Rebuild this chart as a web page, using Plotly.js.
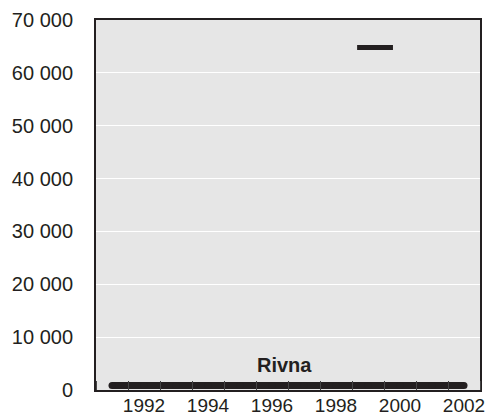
<!DOCTYPE html>
<html>
<head>
<meta charset="utf-8">
<script src="https://cdn.plot.ly/plotly-3.0.1.min.js"></script>
<style>html,body{margin:0;padding:0;background:#fff;}#chart{width:490px;height:417px;}</style>
</head>
<body>
<div id="chart"></div>
<script>
// Data
var years = [1991, 1992, 1993, 1994, 1995, 1996, 1997, 1998, 1999, 2000, 2001, 2002];
var rivnaValues = [850, 850, 850, 850, 850, 850, 850, 850, 850, 850, 850, 850];
var peakYears = [1998.66, 1999.78];
var peakValues = [64800, 64800];
var xTickVals = [1992, 1994, 1996, 1998, 2000, 2002];
var xTickText = ['1992', '1994', '1996', '1998', '2000', '2002'];
var yTickVals = [0, 10000, 20000, 30000, 40000, 50000, 60000, 70000];
var yTickText = ['0', '10 000', '20 000', '30 000', '40 000', '50 000', '60 000', '70 000'];
var seriesLabel = 'Rivna';

var dark = '#231f20';
var traces = [
  {x: years, y: rivnaValues, type: 'scatter', mode: 'lines+markers',
   line: {color: dark, width: 7}, marker: {color: dark, size: 7}, hoverinfo: 'skip', cliponaxis: false},
  {x: peakYears, y: peakValues, type: 'scatter', mode: 'lines',
   line: {color: dark, width: 5}, hoverinfo: 'skip'}
];

var fam = '"Liberation Sans", Arial, Helvetica, sans-serif';
var font = {family: fam, size: 20, color: dark};
var layout = {
  width: 490, height: 417,
  margin: {l: 96, r: 10, t: 20, b: 27, pad: 0},
  paper_bgcolor: '#ffffff',
  plot_bgcolor: '#e6e6e6',
  showlegend: false,
  font: font,
  xaxis: {
    range: [1990.5, 2002.5],
    tickmode: 'array', tickvals: xTickVals, ticktext: xTickText,
    ticks: '', showgrid: false, zeroline: false,
    showline: true, mirror: true, linecolor: dark, linewidth: 2,
    ticklabelstandoff: -3,
    tickfont: {family: fam, size: 19, color: dark},
    minor: {tick0: 1991.5, dtick: 1, ticks: 'inside', ticklen: 9, tickwidth: 1, tickcolor: '#444', showgrid: false}
  },
  yaxis: {
    range: [0, 70000],
    tickmode: 'array', tickvals: yTickVals, ticktext: yTickText,
    ticks: '', showgrid: true, gridcolor: '#ffffff', gridwidth: 1, zeroline: false,
    showline: true, mirror: true, linecolor: dark, linewidth: 2,
    ticklabelstandoff: 17,
    tickfont: font
  },
  annotations: [{
    text: '<b>' + seriesLabel + '</b>', x: 1996.4, y: 4700, xref: 'x', yref: 'y',
    showarrow: false, font: {family: fam, size: 20, color: dark}
  }]
};
Plotly.newPlot('chart', traces, layout, {staticPlot: true, displayModeBar: false});
</script>
</body>
</html>
